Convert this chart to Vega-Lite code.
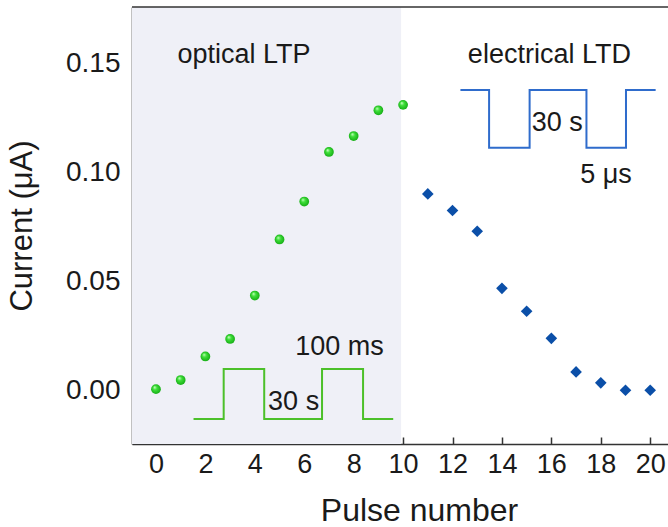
{
  "$schema": "https://vega.github.io/schema/vega-lite/v6.json",
  "width": 536,
  "height": 437,
  "autosize": "none",
  "padding": {"left": 132, "top": 7, "right": 0, "bottom": 83},
  "background": "white",
  "config": {"view": {"stroke": null}, "font": "Liberation Sans"},
  "datasets": {
    "region": [{"phase": "optical LTP", "start": -0.97, "end": 9.92}],
    "frame": [{"top": 0.17585}],
    "points": [
      {"pulse": 0, "current": 0.0007, "phase": "optical LTP"},
      {"pulse": 1, "current": 0.0049, "phase": "optical LTP"},
      {"pulse": 2, "current": 0.0157, "phase": "optical LTP"},
      {"pulse": 3, "current": 0.0237, "phase": "optical LTP"},
      {"pulse": 4, "current": 0.0436, "phase": "optical LTP"},
      {"pulse": 5, "current": 0.0693, "phase": "optical LTP"},
      {"pulse": 6, "current": 0.0867, "phase": "optical LTP"},
      {"pulse": 7, "current": 0.1094, "phase": "optical LTP"},
      {"pulse": 8, "current": 0.1167, "phase": "optical LTP"},
      {"pulse": 9, "current": 0.1285, "phase": "optical LTP"},
      {"pulse": 10, "current": 0.1310, "phase": "optical LTP"},
      {"pulse": 11, "current": 0.0902, "phase": "electrical LTD"},
      {"pulse": 12, "current": 0.0826, "phase": "electrical LTD"},
      {"pulse": 13, "current": 0.0731, "phase": "electrical LTD"},
      {"pulse": 14, "current": 0.0469, "phase": "electrical LTD"},
      {"pulse": 15, "current": 0.0364, "phase": "electrical LTD"},
      {"pulse": 16, "current": 0.0240, "phase": "electrical LTD"},
      {"pulse": 17, "current": 0.0086, "phase": "electrical LTD"},
      {"pulse": 18, "current": 0.0036, "phase": "electrical LTD"},
      {"pulse": 19, "current": 0.0002, "phase": "electrical LTD"},
      {"pulse": 20, "current": 0.0002, "phase": "electrical LTD"}
    ],
    "waves": [
      {"wave": "optical", "i": 0, "t": 1.52, "v": -0.0130},
      {"wave": "optical", "i": 1, "t": 2.74, "v": -0.0130},
      {"wave": "optical", "i": 2, "t": 2.74, "v": 0.0100},
      {"wave": "optical", "i": 3, "t": 4.38, "v": 0.0100},
      {"wave": "optical", "i": 4, "t": 4.38, "v": -0.0130},
      {"wave": "optical", "i": 5, "t": 6.72, "v": -0.0130},
      {"wave": "optical", "i": 6, "t": 6.72, "v": 0.0100},
      {"wave": "optical", "i": 7, "t": 8.38, "v": 0.0100},
      {"wave": "optical", "i": 8, "t": 8.38, "v": -0.0130},
      {"wave": "optical", "i": 9, "t": 9.60, "v": -0.0130},
      {"wave": "electrical", "i": 0, "t": 12.32, "v": 0.1378},
      {"wave": "electrical", "i": 1, "t": 13.48, "v": 0.1378},
      {"wave": "electrical", "i": 2, "t": 13.48, "v": 0.1114},
      {"wave": "electrical", "i": 3, "t": 15.12, "v": 0.1114},
      {"wave": "electrical", "i": 4, "t": 15.12, "v": 0.1378},
      {"wave": "electrical", "i": 5, "t": 17.42, "v": 0.1378},
      {"wave": "electrical", "i": 6, "t": 17.42, "v": 0.1114},
      {"wave": "electrical", "i": 7, "t": 19.02, "v": 0.1114},
      {"wave": "electrical", "i": 8, "t": 19.02, "v": 0.1378},
      {"wave": "electrical", "i": 9, "t": 20.22, "v": 0.1378}
    ],
    "notes": [
      {"label": "optical LTP", "t": 3.56, "v": 0.1503},
      {"label": "electrical LTD", "t": 15.92, "v": 0.1503},
      {"label": "30 s", "t": 16.24, "v": 0.1192},
      {"label": "5 μs", "t": 18.21, "v": 0.0951},
      {"label": "100 ms", "t": 7.43, "v": 0.0164},
      {"label": "30 s", "t": 5.57, "v": -0.0089}
    ]
  },
  "layer": [
    {
      "data": {"name": "region"},
      "mark": {"type": "rect", "color": "#eff0f7"},
      "encoding": {
        "x": {"field": "start", "type": "quantitative", "scale": {"domain": [-0.97, 20.72], "nice": false}, "title": "Pulse number"},
        "x2": {"field": "end"}
      }
    },
    {
      "data": {"name": "frame"},
      "mark": {"type": "rule", "color": "#333333", "strokeWidth": 1.6},
      "encoding": {
        "y": {"field": "top", "type": "quantitative", "scale": {"domain": [-0.02443, 0.17585], "nice": false}, "title": "Current (μA)"}
      }
    },
    {
      "data": {"name": "waves"},
      "mark": {"type": "line", "strokeWidth": 2},
      "encoding": {
        "x": {"field": "t", "type": "quantitative", "scale": {"domain": [-0.97, 20.72], "nice": false}, "title": "Pulse number"},
        "y": {"field": "v", "type": "quantitative", "scale": {"domain": [-0.02443, 0.17585], "nice": false}, "title": "Current (μA)"},
        "order": {"field": "i"},
        "detail": {"field": "wave"},
        "color": {"field": "wave", "type": "nominal", "scale": {"domain": ["optical", "electrical"], "range": ["#4cc02a", "#2f6ccc"]}, "legend": null}
      }
    },
    {
      "data": {"name": "notes"},
      "mark": {"type": "text", "font": "Liberation Sans", "fontSize": 27, "align": "center", "baseline": "alphabetic", "color": "#1a1a1a"},
      "encoding": {
        "x": {"field": "t", "type": "quantitative", "scale": {"domain": [-0.97, 20.72], "nice": false}, "title": "Pulse number"},
        "y": {"field": "v", "type": "quantitative", "scale": {"domain": [-0.02443, 0.17585], "nice": false}, "title": "Current (μA)"},
        "text": {"field": "label"}
      }
    },
    {
      "data": {"name": "points"},
      "transform": [{"filter": "datum.phase === 'electrical LTD'"}],
      "mark": {"type": "point", "shape": "diamond", "filled": true, "size": 135, "color": "#0b4fa8", "opacity": 1},
      "encoding": {
        "x": {"field": "pulse", "type": "quantitative", "scale": {"domain": [-0.97, 20.72], "nice": false}, "title": "Pulse number"},
        "y": {"field": "current", "type": "quantitative", "scale": {"domain": [-0.02443, 0.17585], "nice": false}, "title": "Current (μA)"}
      }
    },
    {
      "data": {"name": "points"},
      "transform": [{"filter": "datum.phase === 'optical LTP'"}],
      "mark": {
        "type": "circle",
        "size": 95,
        "opacity": 1,
        "fill": {
          "gradient": "radial",
          "x1": 0.35, "y1": 0.3, "r1": 0.02,
          "x2": 0.5, "y2": 0.5, "r2": 0.55,
          "stops": [
            {"offset": 0, "color": "#c8ffc0"},
            {"offset": 0.35, "color": "#3fe03a"},
            {"offset": 1, "color": "#12a812"}
          ]
        }
      },
      "encoding": {
        "x": {
          "field": "pulse", "type": "quantitative",
          "scale": {"domain": [-0.97, 20.72], "nice": false},
          "title": "Pulse number",
          "axis": {
            "values": [0,1,2,3,4,5,6,7,8,9,10,11,12,13,14,15,16,17,18,19,20],
            "labelExpr": "datum.value % 2 === 0 ? datum.label : ''",
            "tickSize": {"condition": {"test": "datum.value % 2 === 0", "value": -7}, "value": -4},
            "labelPadding": 14,
            "labelFontSize": 27,
            "labelColor": "#1a1a1a",
            "labelFont": "Liberation Sans",
            "labelBaseline": "top",
            "domainColor": "#333333", "domainWidth": 1.6,
            "tickColor": "#333333", "tickWidth": 1.5,
            "grid": false,
            "titleFontSize": 32, "titleFont": "Liberation Sans", "titleFontWeight": "normal", "titleColor": "#1a1a1a",
            "titlePadding": 18,
            "titleX": 287,
            "titleAlign": "center"
          }
        },
        "y": {
          "field": "current", "type": "quantitative",
          "scale": {"domain": [-0.02443, 0.17585], "nice": false},
          "title": "Current (μA)",
          "axis": {
            "values": [0, 0.025, 0.05, 0.075, 0.1, 0.125, 0.15, 0.175],
            "labelExpr": "round(datum.value * 40) % 2 === 0 ? format(datum.value, '.2f') : ''",
            "tickSize": {"condition": {"test": "round(datum.value * 40) % 2 === 0", "value": -7}, "value": -4},
            "labelPadding": 19,
            "labelFontSize": 28,
            "labelColor": "#1a1a1a",
            "labelFont": "Liberation Sans",
            "domainColor": "#333333", "domainWidth": 1.6,
            "tickColor": "#333333", "tickWidth": 1.5,
            "grid": false,
            "titleFontSize": 31, "titleFont": "Liberation Sans", "titleFontWeight": "normal", "titleColor": "#1a1a1a",
            "titlePadding": 27
          }
        }
      }
    }
  ]
}
